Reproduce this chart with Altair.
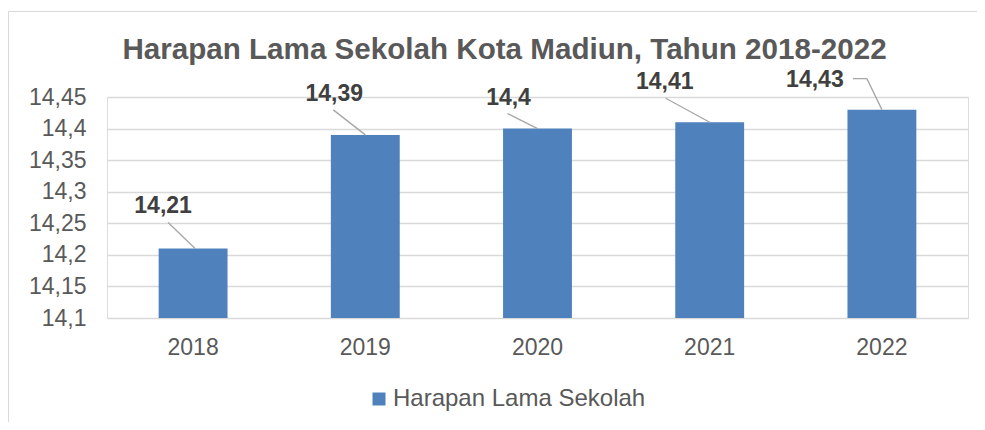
import altair as alt
import pandas as pd

# ---- data ----
years = ["2018", "2019", "2020", "2021", "2022"]
values = [14.21, 14.39, 14.40, 14.41, 14.43]
y_ticks = [14.1, 14.15, 14.2, 14.25, 14.3, 14.35, 14.4, 14.45]
series_name = "Harapan Lama Sekolah"
title_text = "Harapan Lama Sekolah Kota Madiun, Tahun 2018-2022"

df = pd.DataFrame({"year": years, "value": values, "series": [series_name] * len(years)})

FONT = "Liberation Sans"
GREY = "#595959"
BLUE = "#4F81BD"
W, H = 861, 221

x_axis = alt.Axis(labelAngle=0, ticks=False, domain=False, grid=False, labelOverlap=False,
                  labelFontSize=23, labelColor=GREY, labelFont=FONT, labelPadding=18)
x_scale = alt.Scale(paddingInner=0.6, paddingOuter=0.3)
y_axis = alt.Axis(values=y_ticks, grid=True, gridColor="#D9D9D9", gridWidth=1.5,
                  ticks=False, domain=False, labelOverlap=False,
                  labelFontSize=23, labelColor=GREY, labelFont=FONT, labelPadding=21,
                  labelExpr="replace(format(datum.value, '.2~f'), '.', ',')")
y_scale = alt.Scale(domain=[14.1, 14.45], zero=False, nice=False)

y_enc = alt.Y("value:Q", title=None, axis=y_axis, scale=y_scale)
x_bar = alt.X("year:N", title=None, axis=x_axis, scale=x_scale)
x_mid = alt.X("year:N", title=None, axis=x_axis, scale=x_scale, bandPosition=0.5)

base = alt.Chart(df)

bars = base.mark_bar(color=BLUE).encode(
    x=x_bar,
    y=y_enc,
    y2=alt.datum(14.1),
    color=alt.Color("series:N", scale=alt.Scale(range=[BLUE]),
                    legend=alt.Legend(orient="none", legendX=260, legendY=290, title=None,
                                      symbolType="square", symbolSize=169, symbolStrokeWidth=0,
                                      labelFontSize=24, labelColor=GREY, labelFont=FONT,
                                      labelOffset=2, labelLimit=600)),
)

# label offsets (px) relative to bar top centre: text dx, dy
label_off = {
    "2018": (-30, -43),
    "2019": (-31, -41),
    "2020": (-29, -31),
    "2021": (-45, -40),
    "2022": (-67, -30),
}
# leader line segments (px offsets from bar top centre)
leader_segs = {
    "2018": [(-25, -26, 2, 0)],
    "2019": [(-32, -25, 0, 0)],
    "2020": [(-30, -15, 0, 0)],
    "2021": [(-44, -24, 0, 0)],
    "2022": [(-29, -31, -15, -31), (-15, -31, 0, 0)],
}

layers = [bars]
for yr in years:
    sub = base.transform_filter(alt.datum.year == yr)
    for (x1, y1, x2, y2) in leader_segs[yr]:
        layers.append(
            sub.mark_rule(color="#A6A6A6", strokeWidth=1.3,
                          xOffset=x1, yOffset=y1, x2Offset=x2, y2Offset=y2).encode(
                x=x_mid,
                x2=alt.X2("year", bandPosition=0.5),
                y=y_enc,
                y2=alt.Y2("value"),
            )
        )
    dx, dy = label_off[yr]
    layers.append(
        sub.transform_calculate(lbl="replace(format(datum.value, '.2~f'), '.', ',')")
        .mark_text(dx=dx, dy=dy, font=FONT, fontSize=23, fontWeight="bold",
                   color="#404040", align="center", baseline="middle").encode(
            x=x_mid,
            y=y_enc,
            text="lbl:N",
        )
    )

frame = alt.Chart(alt.Data(values=[{}])).mark_rect(
    fill="transparent", stroke="#D9D9D9", strokeWidth=1).encode(
    x=alt.value(-98.5), x2=alt.value(900), y=alt.value(-85.5), y2=alt.value(420))

chart = alt.layer(frame, *layers).properties(
    width=W, height=H,
    title=alt.TitleParams(title_text, font=FONT, fontSize=29.6, fontWeight="bold",
                          color=GREY, anchor="middle", dx=-33, offset=-55),
    autosize=alt.AutoSizeParams(type="none"),
    padding={"left": 99, "top": 89, "right": 9, "bottom": 104},
).configure_view(strokeWidth=0, stroke="transparent").configure(font=FONT)

chart.save("out.html", embed_options={"renderer": "svg", "actions": False})
